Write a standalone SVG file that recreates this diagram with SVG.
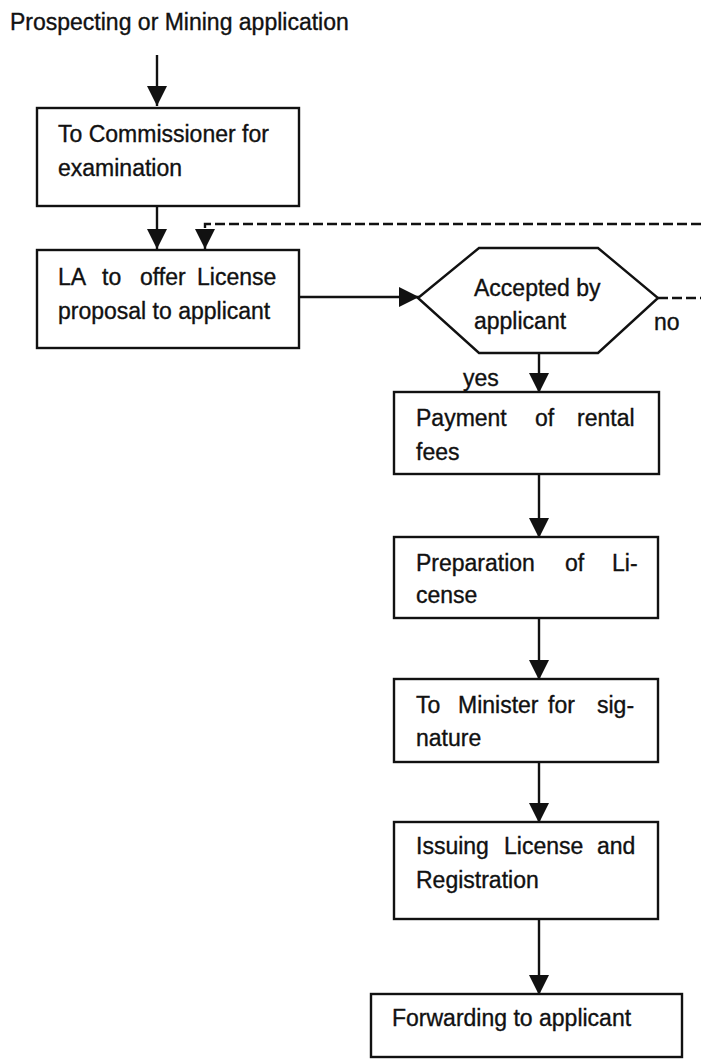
<svg xmlns="http://www.w3.org/2000/svg" width="701" height="1059" viewBox="0 0 701 1059">
  <style>
    .box { fill: #fff; stroke: #111; stroke-width: 2.4; }
    .lbl { font-family: "Liberation Sans", Arial, sans-serif; font-size: 23px; fill: #111; stroke: #111; stroke-width: 0.35; }
    .edge { fill: none; stroke: #111; stroke-width: 2.4; }
    .dash { fill: none; stroke: #111; stroke-width: 2.4; stroke-dasharray: 10 4; }
  </style>
  <defs>
    <marker id="head" markerUnits="userSpaceOnUse" markerWidth="22" markerHeight="22" refX="20" refY="10" orient="auto">
      <path d="M0,0 L20,10 L0,20 Z" fill="#111"/>
    </marker>
  </defs>
  <rect width="701" height="1059" fill="#fff"/>

  <text class="lbl" x="10" y="30">Prospecting or Mining application</text>

  <g id="connectors">
    <line class="edge" x1="157" y1="55" x2="157" y2="106" marker-end="url(#head)"/>
    <line class="edge" x1="157" y1="206" x2="157" y2="249" marker-end="url(#head)"/>
    <polyline class="dash" points="701,224 205,224 205,249" marker-end="url(#head)"/>
    <line class="edge" x1="299" y1="297" x2="419" y2="297" marker-end="url(#head)"/>
    <line class="dash" x1="658" y1="298" x2="701" y2="298"/>
    <line class="edge" x1="539" y1="353" x2="539" y2="393" marker-end="url(#head)"/>
    <line class="edge" x1="539" y1="474" x2="539" y2="538" marker-end="url(#head)"/>
    <line class="edge" x1="539" y1="618" x2="539" y2="680" marker-end="url(#head)"/>
    <line class="edge" x1="539" y1="762" x2="539" y2="823" marker-end="url(#head)"/>
    <line class="edge" x1="539" y1="919" x2="539" y2="995" marker-end="url(#head)"/>
    <text class="lbl" x="654" y="330">no</text>
    <text class="lbl" x="463" y="386">yes</text>
  </g>

  <g id="commissioner">
    <rect class="box" x="37" y="108" width="262" height="98"/>
    <text class="lbl" x="58" y="142">To Commissioner for</text>
    <text class="lbl" x="58" y="176">examination</text>
  </g>

  <g id="offer">
    <rect class="box" x="37" y="250" width="262" height="98"/>
    <text class="lbl" y="285"><tspan x="58">LA</tspan><tspan x="102">to</tspan><tspan x="140">offer</tspan><tspan x="197">License</tspan></text>
    <text class="lbl" x="58" y="319">proposal to applicant</text>
  </g>

  <g id="accepted">
    <polygon class="box" points="418,298 479,248 598,248 658,298 598,353 479,353"/>
    <text class="lbl" x="474" y="296">Accepted by</text>
    <text class="lbl" x="474" y="329">applicant</text>
  </g>

  <g id="payment">
    <rect class="box" x="394" y="392" width="265" height="82"/>
    <text class="lbl" y="426"><tspan x="416">Payment</tspan><tspan x="535">of</tspan><tspan x="577">rental</tspan></text>
    <text class="lbl" x="416" y="460">fees</text>
  </g>

  <g id="preparation">
    <rect class="box" x="394" y="537" width="264" height="81"/>
    <text class="lbl" y="571"><tspan x="416">Preparation</tspan><tspan x="565">of</tspan><tspan x="612">Li-</tspan></text>
    <text class="lbl" x="416" y="603">cense</text>
  </g>

  <g id="minister">
    <rect class="box" x="394" y="679" width="264" height="83"/>
    <text class="lbl" y="713"><tspan x="416">To</tspan><tspan x="458">Minister</tspan><tspan x="548">for</tspan><tspan x="597">sig-</tspan></text>
    <text class="lbl" x="416" y="746">nature</text>
  </g>

  <g id="issuing">
    <rect class="box" x="394" y="822" width="264" height="97"/>
    <text class="lbl" y="854"><tspan x="416">Issuing</tspan><tspan x="504">License</tspan><tspan x="597">and</tspan></text>
    <text class="lbl" x="416" y="888">Registration</text>
  </g>

  <g id="forwarding">
    <rect class="box" x="371" y="994" width="311" height="63"/>
    <text class="lbl" x="392" y="1026">Forwarding to applicant</text>
  </g>
</svg>
